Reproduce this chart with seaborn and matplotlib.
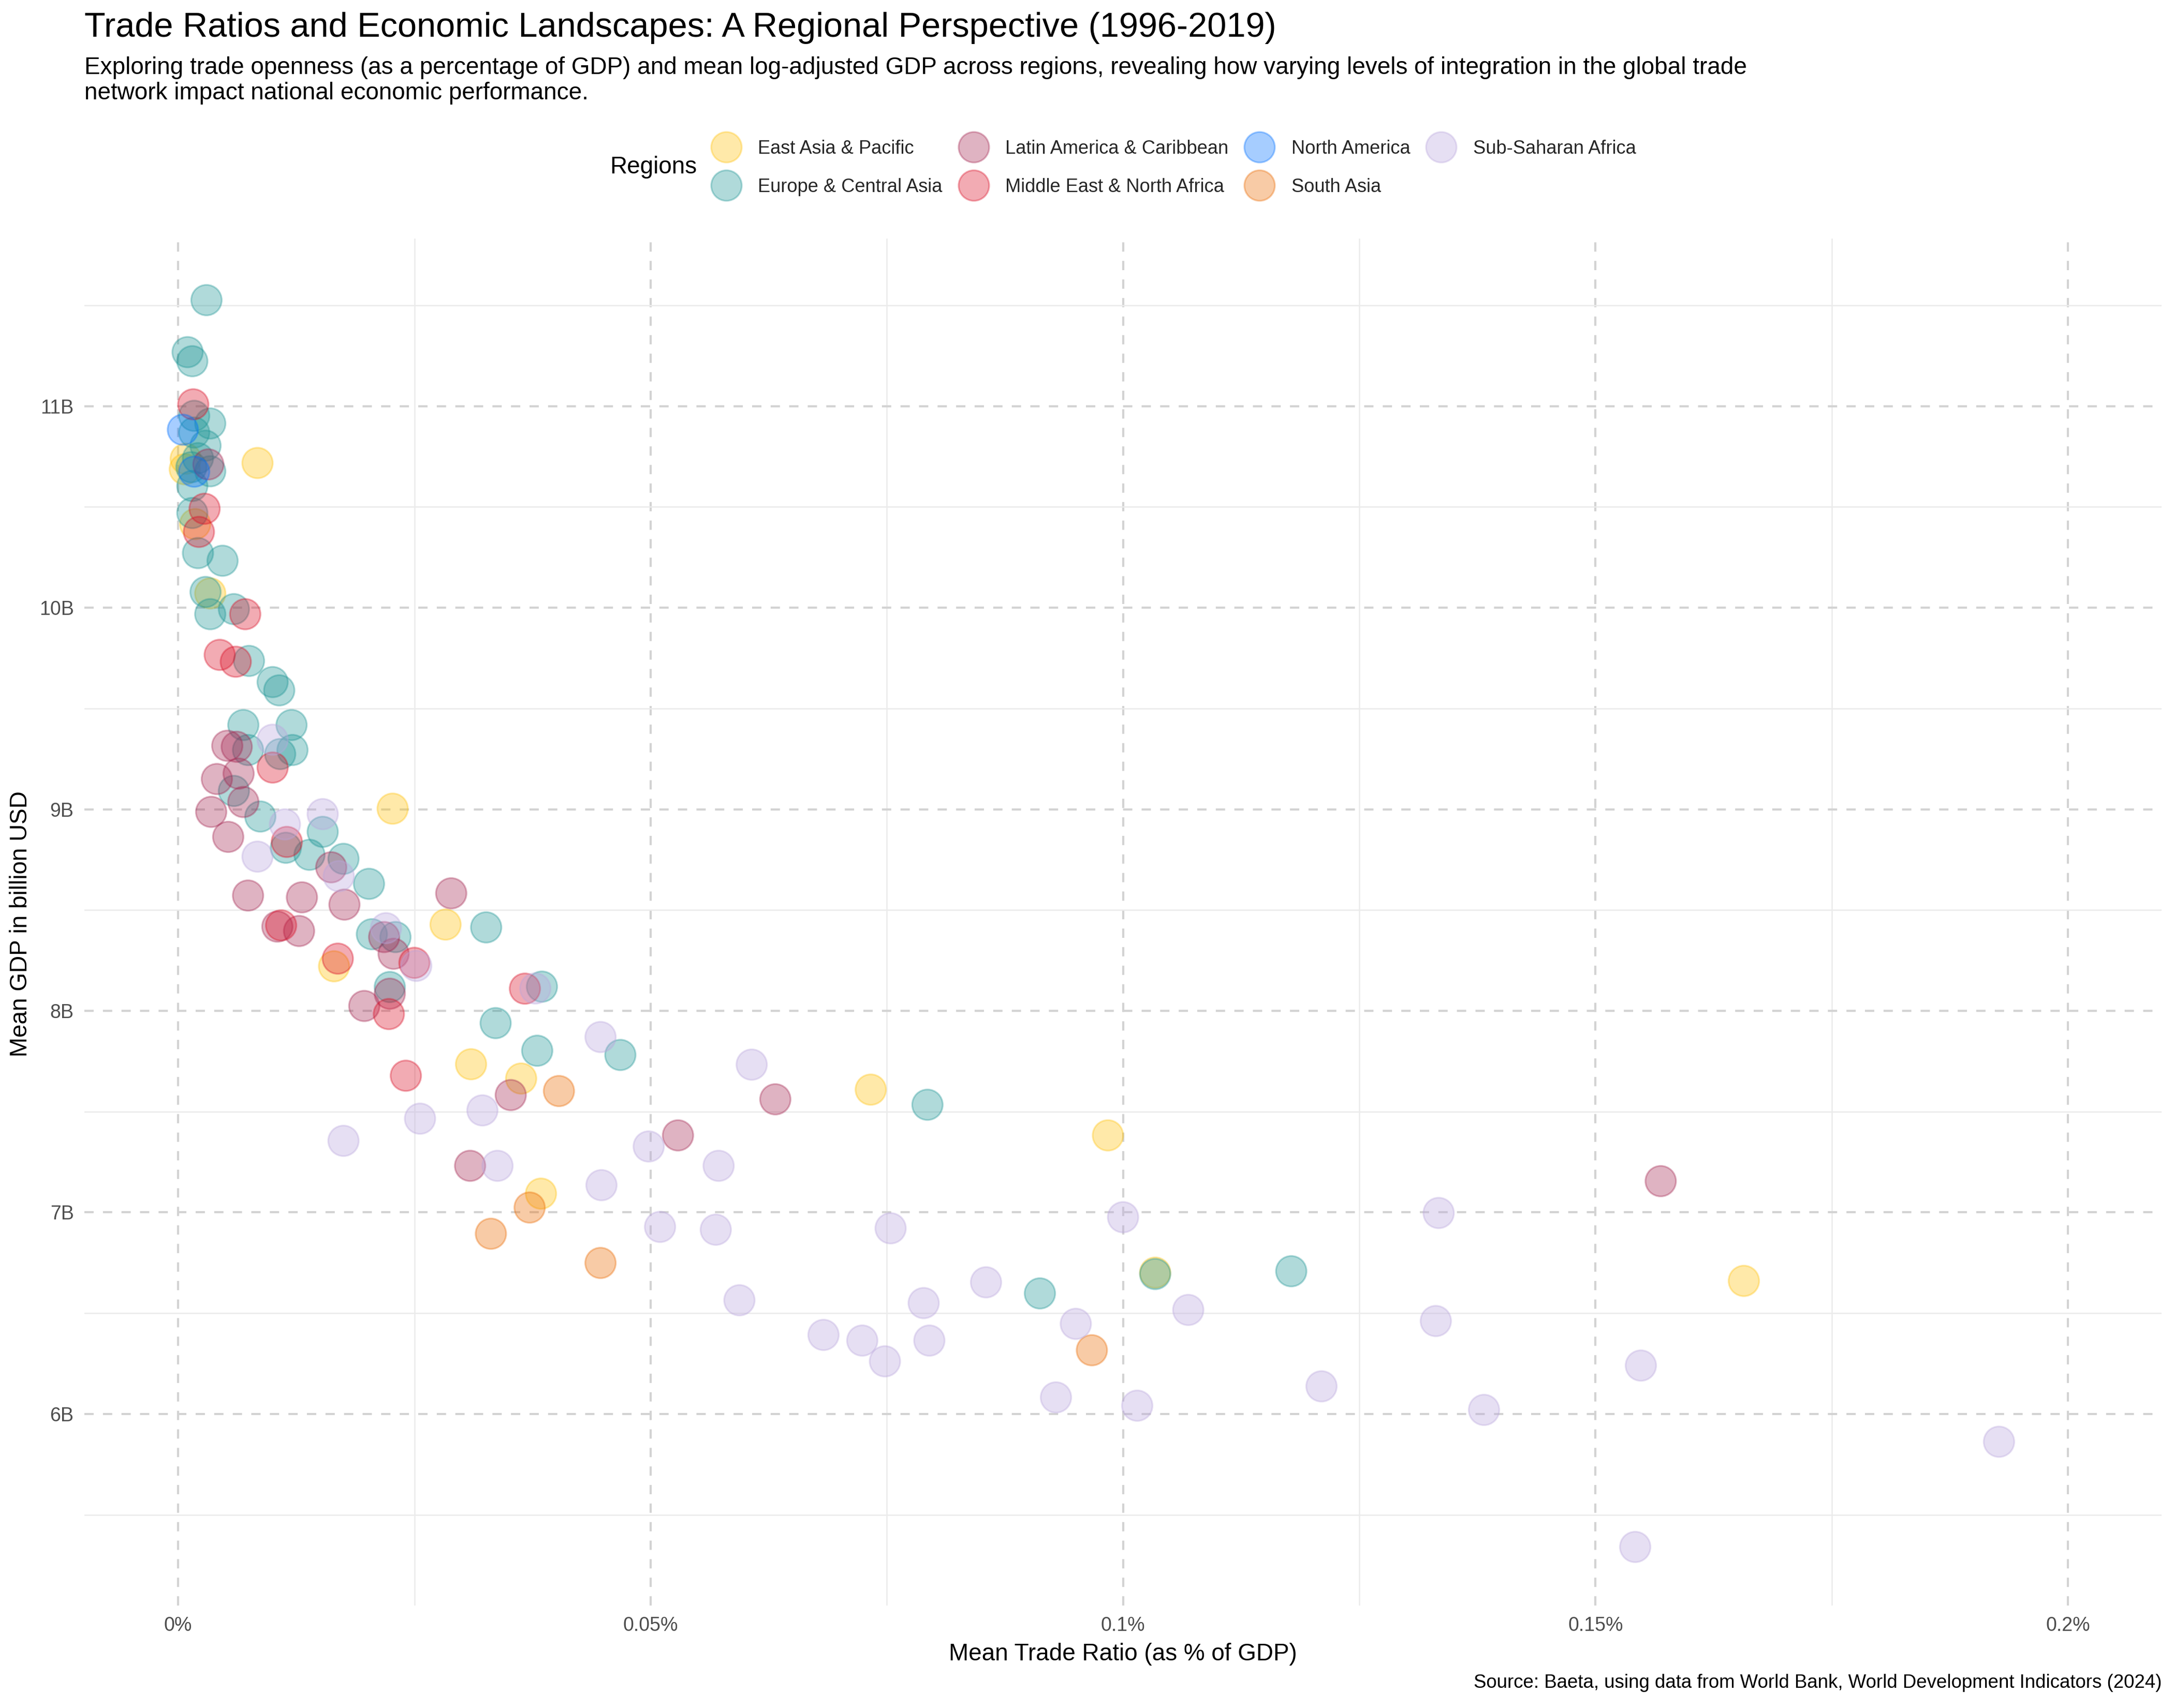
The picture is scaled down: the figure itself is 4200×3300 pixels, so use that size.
import matplotlib
matplotlib.use("Agg")
import matplotlib.pyplot as plt
import pandas as pd
import seaborn as sns
from matplotlib.ticker import FixedLocator

regions = ["East Asia & Pacific", "Europe & Central Asia", "Latin America & Caribbean",
           "Middle East & North Africa", "North America", "South Asia", "Sub-Saharan Africa"]
colors = ["#FFC20A", "#1D9595", "#A42651", "#DA0F26", "#0070FF", "#EB6A01", "#BAA6DD"]

# trade ratio (%) and mean gdp (B), region by region
eap_x = [0.0008, 0.0007, 0.0084, 0.0018, 0.0034, 0.0227, 0.0283, 0.0165, 0.0310, 0.0363, 0.0733, 0.0984, 0.0384, 0.1034, 0.1657]
eap_y = [10.739, 10.687, 10.718, 10.415, 10.071, 9.003, 8.428, 8.221, 7.735, 7.664, 7.609, 7.382, 7.093, 6.701, 6.660]

eca_x = [0.0030, 0.0010, 0.0015, 0.0017, 0.0034, 0.0017, 0.0029, 0.0021, 0.0014, 0.0034, 0.0015, 0.0015, 0.0021, 0.0047, 0.0029,
         0.0059, 0.0034, 0.0075, 0.0100, 0.0107, 0.0069, 0.0120, 0.0074, 0.0108, 0.0121, 0.0059, 0.0087, 0.0153, 0.0114, 0.0139,
         0.0175, 0.0202, 0.0205, 0.0230, 0.0326, 0.0224, 0.0385, 0.0336, 0.0380, 0.0468, 0.0793, 0.0912, 0.1034, 0.1178]
eca_y = [11.526, 11.268, 11.223, 10.952, 10.914, 10.869, 10.804, 10.742, 10.697, 10.677, 10.604, 10.470, 10.271, 10.233, 10.078,
         9.993, 9.968, 9.736, 9.631, 9.590, 9.418, 9.418, 9.294, 9.274, 9.294, 9.091, 8.964, 8.888, 8.809, 8.774,
         8.754, 8.630, 8.380, 8.366, 8.414, 8.118, 8.120, 7.939, 7.802, 7.781, 7.534, 6.598, 6.694, 6.708]

lac_x = [0.0032, 0.0052, 0.0062, 0.0064, 0.0041, 0.0069, 0.0035, 0.0053, 0.0162, 0.0074, 0.0131, 0.0176, 0.0289, 0.0105, 0.0128, 0.0218,
         0.0228, 0.0224, 0.0197, 0.0632, 0.0529, 0.0352, 0.0309, 0.1569]
lac_y = [10.711, 9.315, 9.310, 9.177, 9.150, 9.036, 8.987, 8.863, 8.712, 8.572, 8.563, 8.527, 8.583, 8.418, 8.396, 8.366,
         8.283, 8.085, 8.024, 7.561, 7.382, 7.582, 7.231, 7.155]

mena_x = [0.0016, 0.0028, 0.0022, 0.0071, 0.0044, 0.0061, 0.0100, 0.0115, 0.0109, 0.0250, 0.0169, 0.0367, 0.0223, 0.0241]
mena_y = [11.009, 10.491, 10.376, 9.968, 9.766, 9.732, 9.207, 8.838, 8.424, 8.238, 8.259, 8.110, 7.984, 7.678]

na_x = [0.0005, 0.0017]
na_y = [10.883, 10.675]

sa_x = [0.0403, 0.0372, 0.0331, 0.0447, 0.0967]
sa_y = [7.602, 7.024, 6.894, 6.749, 6.316]

ssa_x = [0.0100, 0.0153, 0.0113, 0.0084, 0.0170, 0.0220, 0.0252, 0.0378, 0.0447, 0.0607, 0.0256, 0.0322, 0.0175, 0.0498, 0.0572,
         0.0338, 0.0448, 0.0510, 0.0569, 0.0754, 0.1000, 0.1334, 0.0594, 0.0683, 0.0724, 0.0748, 0.0789, 0.0795, 0.0855, 0.0950,
         0.1069, 0.1331, 0.0929, 0.1015, 0.1210, 0.1382, 0.1548, 0.1927, 0.1542]
ssa_y = [9.345, 8.976, 8.925, 8.765, 8.668, 8.410, 8.223, 8.111, 7.870, 7.733, 7.465, 7.506, 7.355, 7.327, 7.231,
         7.231, 7.135, 6.928, 6.914, 6.921, 6.976, 6.997, 6.564, 6.392, 6.364, 6.261, 6.550, 6.364, 6.653, 6.447,
         6.516, 6.461, 6.082, 6.041, 6.137, 6.020, 6.240, 5.862, 5.340]

x_ticks = [0, 0.05, 0.1, 0.15, 0.2]
x_labels = ["0%", "0.05%", "0.1%", "0.15%", "0.2%"]
y_ticks = [6, 7, 8, 9, 10, 11]
y_labels = ["6B", "7B", "8B", "9B", "10B", "11B"]

title = "Trade Ratios and Economic Landscapes: A Regional Perspective (1996-2019)"
subtitle = ("Exploring trade openness (as a percentage of GDP) and mean log-adjusted GDP across regions, revealing how varying levels of integration in the global trade\n"
            "network impact national economic performance.")
caption = "Source: Baeta, using data from World Bank, World Development Indicators (2024)"

xs = [eap_x, eca_x, lac_x, mena_x, na_x, sa_x, ssa_x]
ys = [eap_y, eca_y, lac_y, mena_y, na_y, sa_y, ssa_y]
frames = []
for region, x, y in zip(regions, xs, ys):
    frames.append(pd.DataFrame({"trade": x, "gdp": y, "region": region}))
df = pd.concat(frames, ignore_index=True)

sns.set_theme(style="white")
plt.rcParams["font.family"] = ["Liberation Sans", "DejaVu Sans"]

W, H = 1568.0, 1232.0  # layout worked out in preview pixels
fig = plt.figure(figsize=(14, 11), dpi=300)
ax = fig.add_axes([61 / W, 1 - 1158 / H, (1559 - 61) / W, (1158 - 172) / H])

sns.scatterplot(data=df, x="trade", y="gdp", hue="region", hue_order=regions, palette=colors,
                s=200, alpha=0.35, edgecolor="face", linewidth=0.8, ax=ax, zorder=3)

ax.set_xlim(-0.0099, 0.2099)
ax.set_ylim(5.05, 11.832)
ax.set_xticks(x_ticks, x_labels)
ax.set_yticks(y_ticks, y_labels)
ax.xaxis.set_minor_locator(FixedLocator([0.025, 0.075, 0.125, 0.175]))
ax.yaxis.set_minor_locator(FixedLocator([5.5, 6.5, 7.5, 8.5, 9.5, 10.5, 11.5]))
ax.grid(which="major", color="#d3d3d3", linewidth=1.0, linestyle=(0, (4.3, 4.3)))
ax.grid(which="minor", color="#ebebeb", linewidth=0.6)
ax.set_axisbelow(True)
ax.tick_params(which="both", length=0)
ax.tick_params(axis="both", labelsize=9, labelcolor="#4d4d4d", pad=5)
sns.despine(ax=ax, left=True, bottom=True)
ax.set_xlabel("")
ax.set_ylabel("")

handles, labels = ax.get_legend_handles_labels()
ax.legend(handles, labels, ncols=4, loc="center left", bbox_to_anchor=(507.5 / W, 1 - 121 / H),
          bbox_transform=fig.transFigure, frameon=False, fontsize=8.7, borderpad=0, handletextpad=1.0,
          columnspacing=0.95, labelspacing=1.08, handlelength=1.4)

fig.text(61 / W, 1 - 20 / H, title, fontsize=16, va="center", ha="left", color="black")
fig.text(61 / W, 1 - 58 / H, subtitle, fontsize=11, va="center", ha="left", color="black", linespacing=1.16)
fig.text(440 / W, 1 - 120.5 / H, "Regions", fontsize=11, va="center", ha="left", color="black")
fig.text(810 / W, 1 - 1193 / H, "Mean Trade Ratio (as % of GDP)", fontsize=11, va="center", ha="center", color="black")
fig.text(15 / W, 1 - 666.5 / H, "Mean GDP in billion USD", fontsize=11, va="center", ha="center", rotation=90, color="black")
fig.text(1559 / W, 1 - 1214 / H, caption, fontsize=8.8, va="center", ha="right", color="black")

fig.savefig("out.png", dpi=300)
